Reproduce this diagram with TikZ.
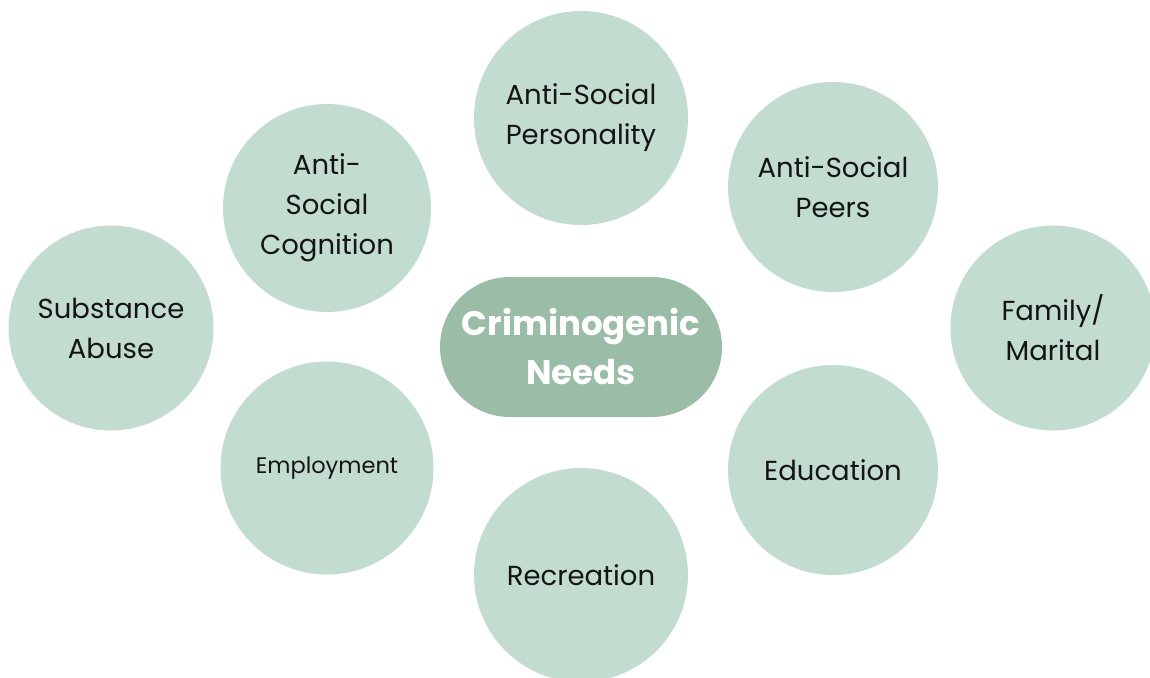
\documentclass[tikz,border=0pt]{standalone}
\usepackage{fontspec}
\setmainfont{Poppins}
\definecolor{circfill}{HTML}{C2DDCF}
\definecolor{hubfill}{HTML}{9BBDA8}
\definecolor{txt}{HTML}{141414}
\tikzset{
  need/.style={circle, fill=circfill, inner sep=0pt, align=center, text=txt,
    font=\fontsize{27.5}{40}\selectfont},
  hub/.style={rectangle, rounded corners=70pt, fill=hubfill, minimum width=282pt,
    minimum height=140pt, align=center, text=white,
    font=\fontsize{34}{49}\selectfont\bfseries}
}
\begin{document}
\begin{tikzpicture}[x=1pt,y=-1pt]
\useasboundingbox (0,0) rectangle (1150,677);
\begin{scope}
\clip (0,0) rectangle (1150,677);
\node[need, minimum size=214pt] (pers) at (581,118) {Anti-Social\\Personality};
\node[need, minimum size=208pt] (cogn) at (327,208) {Anti-\\Social\\Cognition};
\node[need, minimum size=210pt] (peers) at (833,187) {Anti-Social\\Peers};
\node[need, minimum size=205pt] (subst) at (111,328) {Substance\\Abuse};
\node[need, minimum size=205pt] (fam) at (1053,328) {Family/\\Marital};
\node[need, minimum size=213pt, font=\fontsize{22.5}{30}\selectfont] (emp) at (327,468) {Employment};
\node[need, minimum size=210pt] (edu) at (833,470) {Education};
\node[need, minimum size=214pt] (rec) at (581,575) {Recreation};
\node[hub] (hubn) at (581,347) {Criminogenic\\Needs};
\end{scope}
\end{tikzpicture}
\end{document}
